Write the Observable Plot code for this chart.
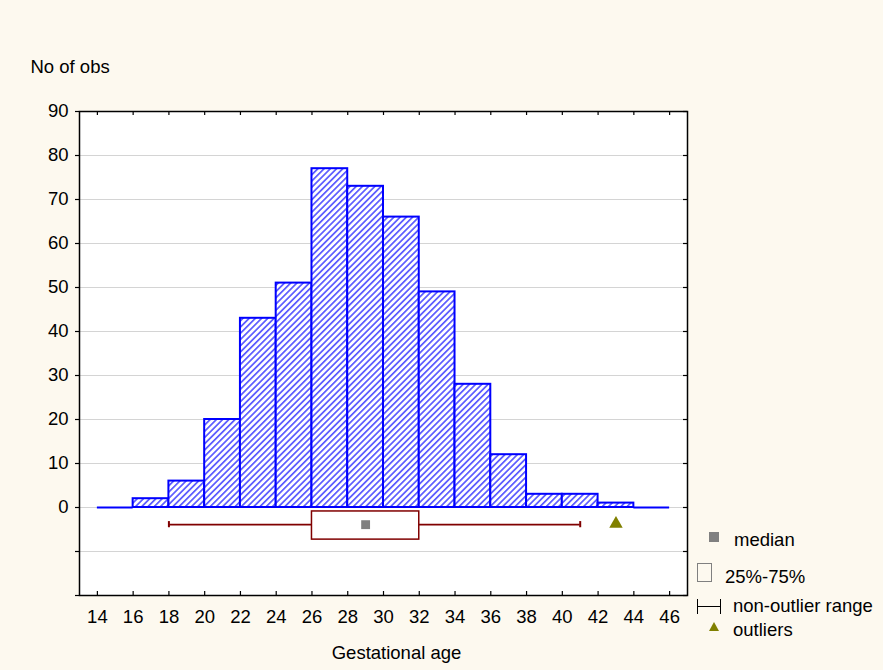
<!DOCTYPE html>
<html>
<head>
<meta charset="utf-8">
<script src="https://cdn.jsdelivr.net/npm/d3@7"></script>
<script src="https://cdn.jsdelivr.net/npm/@observablehq/plot@0.6"></script>
<style>
  html, body { margin: 0; padding: 0; background: #fdf9ef; }
  #wrap { position: relative; width: 883px; height: 670px; font-family: "Liberation Sans", Arial, sans-serif; }
  #legend { position: absolute; left: 0; top: 0; font-size: 18.5px; color: #000; }
  .lg { position: absolute; white-space: nowrap; line-height: 20px; }
</style>
</head>
<body>
<div id="wrap">
  <div id="chart"></div>
  <div id="legend"></div>
</div>
<script>
// Histogram bins (bin start, width 2) and counts
const binStarts = [14, 16, 18, 20, 22, 24, 26, 28, 30, 32, 34, 36, 38, 40, 42, 44];
const counts    = [0, 2, 6, 20, 43, 51, 77, 73, 66, 49, 28, 12, 3, 3, 1, 0];
const binWidth = 2;

// Box plot summary
const whiskerLow = 18, q1 = 26, median = 29, q3 = 32, whiskerHigh = 41;
const outliers = [43];
const boxY = -3.9, boxTop = -0.9, boxBottom = -7.3;

// Axis ticks
const xTicks = d3.range(14, 47, 2);
const yTickLabels = [0, 10, 20, 30, 40, 50, 60, 70, 80, 90];
const yGrid = [-10, 0, 10, 20, 30, 40, 50, 60, 70, 80];
const yTickMarks = [-20, -10, 0, 10, 20, 30, 40, 50, 60, 70, 80, 90];

// Legend entries
const legendLabels = ["median", "25%-75%", "non-outlier range", "outliers"];

const bars = binStarts.map((s, i) => ({x1: s, x2: s + binWidth, y: counts[i]}));
const nonZero = bars.filter(d => d.y > 0);
const zero = bars.filter(d => d.y === 0);

const W = 883, H = 670;
const mL = 79, mR = 196, mT = 111, mB = 75;
const frameH = H - mT - mB, frameW = W - mL - mR;

const blue = "#0000ff", red = "#800000";
const FS = 18.5;

const plot = Plot.plot({
  width: W, height: H,
  marginLeft: mL, marginRight: mR, marginTop: mT, marginBottom: mB,
  style: {background: "transparent", fontFamily: "Liberation Sans, Arial, sans-serif", fontSize: FS + "px", color: "#000"},
  x: {type: "linear", domain: [13, 47], axis: null},
  y: {type: "linear", domain: [-20, 90], axis: null},
  marks: [
    Plot.frame({fill: "white", stroke: null}),
    Plot.ruleY(yGrid, {stroke: "#d4d4d4", strokeWidth: 1.2}),
    // histogram bars
    Plot.rectY(nonZero, {x1: "x1", x2: "x2", y1: 0, y2: "y", fill: "url(#hatch)", stroke: blue, strokeWidth: 2}),
    Plot.ruleY(zero, {x1: "x1", x2: "x2", y: 0, stroke: blue, strokeWidth: 2}),
    // box plot
    Plot.ruleY([boxY], {x1: whiskerLow, x2: q1, stroke: red, strokeWidth: 1.6}),
    Plot.ruleY([boxY], {x1: q3, x2: whiskerHigh, stroke: red, strokeWidth: 1.6}),
    Plot.ruleX([whiskerLow, whiskerHigh], {x: d => d, y1: boxY - 0.7, y2: boxY + 0.7, stroke: red, strokeWidth: 2}),
    Plot.rect([0], {x1: q1, x2: q3, y1: boxBottom, y2: boxTop, fill: "white", stroke: red, strokeWidth: 1.5}),
    Plot.dot([median], {x: d => d, y: boxY, symbol: "square", r: 5, fill: "#808080", stroke: null}),
    Plot.dot(outliers, {x: d => d, y: boxY + 0.2, symbol: "triangle", r: 5, fill: "#808000", stroke: null}),
    // frame
    Plot.frame({stroke: "#000", strokeWidth: 1.5}),
    // inner ticks on top, bottom and right
    Plot.tickX(xTicks, {x: d => d, insetTop: frameH - 4, stroke: "#000", strokeWidth: 1.2}),
    Plot.tickX(xTicks, {x: d => d, insetBottom: frameH - 4, stroke: "#000", strokeWidth: 1.2}),
    Plot.tickY(yTickMarks, {y: d => d, insetLeft: frameW - 4, stroke: "#000", strokeWidth: 1.2}),
    // y axis: outward ticks on left with labels
    Plot.axisY(yTickMarks, {tickSize: 4, tickPadding: 7, fontSize: FS, label: null, strokeWidth: 1.2,
      tickFormat: d => yTickLabels.includes(d) ? String(d) : ""}),
    Plot.axisX(xTicks, {tickSize: 0, tickPadding: 14, fontSize: FS, label: null, anchor: "bottom"}),
    // axis titles
    Plot.text(["No of obs"], {frameAnchor: "top-left", dx: -49, dy: -52, fontSize: FS, textAnchor: "start"}),
    Plot.text(["Gestational age"], {frameAnchor: "bottom", dx: 13, dy: 63, fontSize: FS})
  ]
});

document.getElementById("chart").appendChild(plot);

const svg = d3.select(plot);
// hatch pattern
const defs = svg.insert("defs", ":first-child");
const pat = defs.append("pattern")
  .attr("id", "hatch").attr("patternUnits", "userSpaceOnUse")
  .attr("width", 4.4).attr("height", 4.4)
  .attr("patternTransform", "rotate(45)");
pat.append("rect").attr("width", 4.4).attr("height", 4.4).attr("fill", "white");
pat.append("rect").attr("x", 0).attr("y", 0).attr("width", 1.7).attr("height", 4.4).attr("fill", "#5a5aff");

// Legend (HTML, right of the plot)
const legend = document.getElementById("legend");
const items = [
  {top: 530, sym: '<div style="position:absolute;left:709px;top:532px;width:10px;height:10px;background:#808080"></div>'},
  {top: 567, sym: '<div style="position:absolute;left:697px;top:563px;width:15px;height:19px;border:1px solid #808080;box-sizing:border-box;background:#fdf9ef"></div>'},
  {top: 596, sym: '<svg style="position:absolute;left:696px;top:598px" width="26" height="17"><line x1="1" y1="8.5" x2="25" y2="8.5" stroke="#000"/><line x1="1.5" y1="1" x2="1.5" y2="16" stroke="#000"/><line x1="24.5" y1="1" x2="24.5" y2="16" stroke="#000"/></svg>'},
  {top: 620, sym: '<svg style="position:absolute;left:708px;top:622px" width="12" height="10"><path d="M6 0 L11 9 L1 9 Z" fill="#808000"/></svg>'}
];
const textLeft = [734, 725, 733, 733];
let html = "";
items.forEach((it, i) => {
  html += it.sym;
  html += '<div class="lg" style="left:' + textLeft[i] + 'px;top:' + it.top + 'px">' + legendLabels[i] + '</div>';
});
legend.innerHTML = html;
</script>
</body>
</html>
